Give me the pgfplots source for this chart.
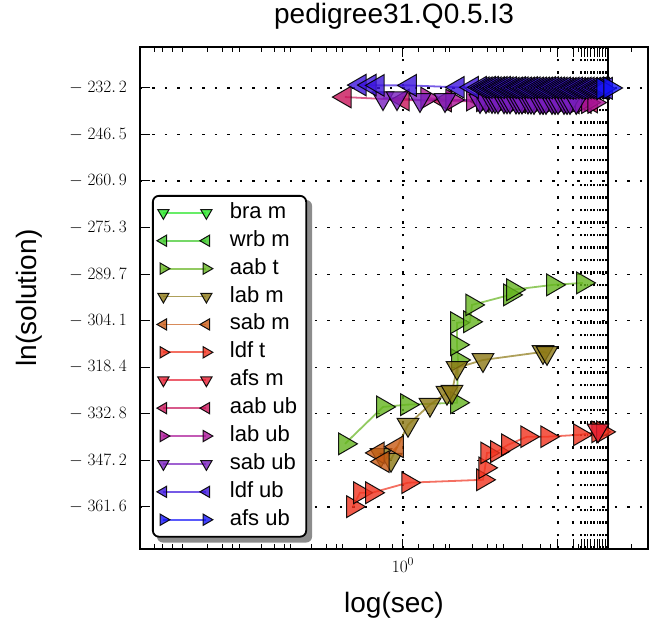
\documentclass[border=0pt]{standalone}
\usepackage{pgfplots}
\pgfplotsset{compat=1.18}
\usepackage{fontspec}
\setmainfont{Liberation Sans}
\pgfdeclarelayer{background}
\pgfsetlayers{background,main}

\definecolor{c1}{RGB}{40,230,40}
\definecolor{c2}{RGB}{60,200,40}
\definecolor{c3}{RGB}{100,180,30}
\definecolor{c4}{RGB}{140,120,20}
\definecolor{c5}{RGB}{200,90,20}
\definecolor{c6}{RGB}{240,50,30}
\definecolor{c7}{RGB}{230,30,50}
\definecolor{c8}{RGB}{200,20,90}
\definecolor{c9}{RGB}{170,20,150}
\definecolor{c10}{RGB}{120,30,190}
\definecolor{c11}{RGB}{60,20,220}
\definecolor{c12}{RGB}{20,20,250}

% one style for every series: colour, direction of the triangle
\pgfplotsset{
  tri/.style 2 args={color=#1, line width=1.8pt, draw opacity=0.7,
    mark=triangle*, mark size=12.5pt,
    mark options={rotate=#2, solid, fill=#1, fill opacity=0.8,
      draw=black, draw opacity=0.9, line width=1pt}},
}

\begin{document}
\begin{tikzpicture}
\useasboundingbox (0,0) rectangle (649pt,620pt);
\begin{axis}[
  at={(140pt,71pt)}, anchor=south west,
  scale only axis, width=508pt, height=502pt,
  xmode=log, xmin=0.05214, xmax=15.67,
  ymin=-374.57, ymax=-219.54,
  axis line style={line width=1.6pt},
  tick style={black, line width=1pt},
  major tick length=10pt, minor tick length=5pt,
  xtick={1}, ytick pos=left,
  minor xtick={0.0617,0.0675,0.0755,0.0845,0.1119,0.1324,0.1481,0.1603,
    0.2052,0.2374,0.2657,0.2811,0.3598,0.4259,0.4765,0.5097,0.6675,0.7723,
    0.8937,1.184,1.401,1.603,1.695,2.171,2.569,2.874,3.075,3.849,4.659,
    5.213,7.14,8.17,12.95},
  extra x ticks={5.70,6.75,7.39,7.72,7.98,8.26,8.55,8.85,9.13,9.45,9.77},
  extra x tick labels={},
  extra x tick style={grid=major},
  ytick={-361.6,-347.2,-332.8,-318.4,-304.1,-289.7,-275.3,-260.9,-246.5,-232.2},
  yticklabels={$-\;361.\,6$,$-\;347.\,2$,$-\;332.\,8$,$-\;318.\,4$,$-\;304.\,1$,
    $-\;289.\,7$,$-\;275.\,3$,$-\;260.\,9$,$-\;246.\,5$,$-\;232.\,2$},
  grid=major,
  major grid style={black, line width=1.2pt, dash pattern=on 2.5pt off 10pt},
  ticklabel style={font=\fontsize{18}{21}\selectfont},
  yticklabel style={inner sep=0pt, xshift=-13pt},
  xticklabel style={inner sep=0pt, yshift=-9pt},
  title={pedigree31.Q0.5.I3},
  title style={at={(0.5,1.0339)}, anchor=base, inner sep=0pt,
    font=\fontsize{28}{32}\selectfont},
  xlabel={log(sec)},
  every axis x label/.style={at={(0.5,-0.1275)}, anchor=base, inner sep=0pt,
    font=\fontsize{28}{32}\selectfont},
  ylabel={ln(solution)},
  every axis y label/.style={at={(-0.2028,0.5)}, rotate=90, anchor=base,
    inner sep=0pt, font=\fontsize{28}{32}\selectfont},
  legend image code/.code={
    \draw[mark repeat=2, mark phase=1, mark size=6.5pt]
      plot coordinates {(0pt,0pt) (21.5pt,0pt) (43pt,0pt)};},
  legend cell align=left,
  legend style={name=leg, at={(0.0236,0.7052)}, anchor=north west,
    font=\fontsize{22}{26}\selectfont,
    draw=black, line width=1.8pt, fill=white, rounded corners=6pt,
    inner xsep=4pt, inner ysep=3pt, row sep=0pt, column sep=12pt,
    nodes={inner xsep=5pt, inner ysep=3.45pt, text height=16pt, text depth=5pt}},
]
\addlegendimage{tri={c1}{180}}
\addlegendentry{bra m}
\addlegendimage{tri={c2}{90}}
\addlegendentry{wrb m}

% aab t
\addplot[tri={c3}{-90}] coordinates {
  (0.521,-342.1) (0.799,-330.7) (1.046,-330.0) (1.834,-329.4) (1.854,-316.2)
  (1.834,-311.5) (1.834,-304.7) (2.122,-304.4) (2.171,-299.2) (3.325,-296.1)
  (3.440,-294.5) (5.391,-293.0) (7.55,-292.4)};
\addlegendentry{aab t}

% lab m
\addplot[tri={c4}{180}] coordinates {
  (0.781,-345.5) (0.874,-347.0) (1.058,-336.2) (1.354,-330.0) (1.639,-326.3)
  (1.734,-326.0) (1.834,-318.6) (2.455,-316.2) (4.819,-313.7) (5.040,-314.0)};
\addlegendentry{lab m}

% sab m
\addplot[tri={c5}{90}] coordinates {
  (0.755,-344.9) (0.799,-347.6) (0.935,-343.0)};
\addlegendentry{sab m}

% ldf t
\addplot[tri={c6}{-90}] coordinates {
  (0.570,-361.5) (0.617,-357.2) (0.706,-357.2) (1.058,-354.1) (2.455,-353.2)
  (2.512,-349.5) (2.569,-344.9) (2.874,-344.5) (3.252,-342.4) (4.026,-339.9)
  (5.040,-339.9) (7.30,-339.3) (8.94,-338.4) (9.45,-338.4)};
\addlegendentry{ldf t}

% afs m
\addplot[tri={c7}{180}] coordinates {
  (8.94,-337.9)};
\addlegendentry{afs m}

% aab ub
\addplot[tri={c8}{90}] coordinates {
  (0.521,-235.0) (1.0,-235.9) (1.603,-236.2) (2.456,-236.4) (3.006,-236.5)
  (3.680,-236.6) (4.505,-236.8) (5.155,-236.8) (5.898,-236.8) (6.749,-236.8)
  (7.723,-236.7) (8.262,-236.5)};
\addlegendentry{aab ub}

% lab ub
\addplot[tri={c9}{-90}] coordinates {
  (1.310,-235.3) (1.734,-235.9) (2.195,-235.9) (2.456,-236.1) (2.540,-236.2)
  (2.718,-236.2) (2.907,-236.3) (3.110,-236.3) (3.327,-236.3) (3.558,-236.4)
  (3.806,-236.4) (4.072,-236.5) (4.355,-236.5) (4.659,-236.5) (4.984,-236.5)
  (5.331,-236.6) (5.703,-236.6) (6.101,-236.6) (6.525,-236.6) (6.981,-236.7)
  (7.467,-236.7) (7.987,-236.7) (8.545,-236.7)};
\addlegendentry{lab ub}

% sab ub
\addplot[tri={c10}{180}] coordinates {
  (0.799,-235.3) (0.935,-235.3) (1.210,-235.9) (1.603,-235.9) (2.375,-236.2)
  (2.540,-236.2) (2.718,-236.2) (2.810,-236.2) (2.907,-236.3) (3.110,-236.3)
  (3.216,-236.3) (3.327,-236.3) (3.558,-236.4) (3.680,-236.4) (3.806,-236.4)
  (4.072,-236.4) (4.211,-236.4) (4.355,-236.5) (4.659,-236.5) (4.819,-236.5)
  (4.984,-236.5) (5.331,-236.5) (5.514,-236.5) (5.703,-236.5) (6.101,-236.5)
  (6.310,-236.5) (6.525,-236.5) (7.0,-236.5)};
\addlegendentry{sab ub}

% ldf ub
\addplot[tri={c11}{90}] coordinates {
  (0.617,-231.3) (0.690,-231.3) (0.755,-231.4) (1.082,-231.4) (1.854,-232.0)
  (2.171,-232.0) (2.375,-232.0) (2.456,-232.1) (2.540,-232.1) (2.628,-232.0)
  (2.718,-232.0) (2.810,-232.1) (2.907,-232.1) (3.006,-232.0) (3.110,-232.0)
  (3.216,-232.1) (3.327,-232.1) (3.440,-232.2) (3.558,-232.2) (3.680,-232.1)
  (3.806,-232.1) (3.937,-232.2) (4.072,-232.2) (4.211,-232.1) (4.355,-232.1)
  (4.505,-232.2) (4.659,-232.2) (4.819,-232.2) (4.984,-232.2) (5.155,-232.1)
  (5.331,-232.1) (5.514,-232.2) (5.703,-232.2) (5.898,-232.2) (6.101,-232.2)
  (6.310,-232.3) (6.525,-232.3) (6.749,-232.2) (6.981,-232.2) (7.220,-232.3)
  (7.467,-232.3) (7.723,-232.2) (7.987,-232.2) (8.262,-232.3) (8.545,-232.3)
  (8.838,-232.2) (9.141,-232.2) (9.454,-232.3) (9.778,-232.3)};
\addlegendentry{ldf ub}

% afs ub
\addplot[tri={c12}{-90}] coordinates {
  (9.454,-232.4) (10.23,-232.2)};
\addlegendentry{afs ub}

% thick rule at 10^1
\draw[black, line width=2.5pt] ({axis cs:10,-300}|-{rel axis cs:0,0})
  -- ({axis cs:10,-300}|-{rel axis cs:0,1});
\end{axis}
\begin{pgfonlayer}{background}
\fill[black!45, rounded corners=6pt] ([xshift=5pt,yshift=-5pt]leg.south west)
  rectangle ([xshift=5pt,yshift=-5pt]leg.north east);
\end{pgfonlayer}
\end{tikzpicture}
\end{document}
